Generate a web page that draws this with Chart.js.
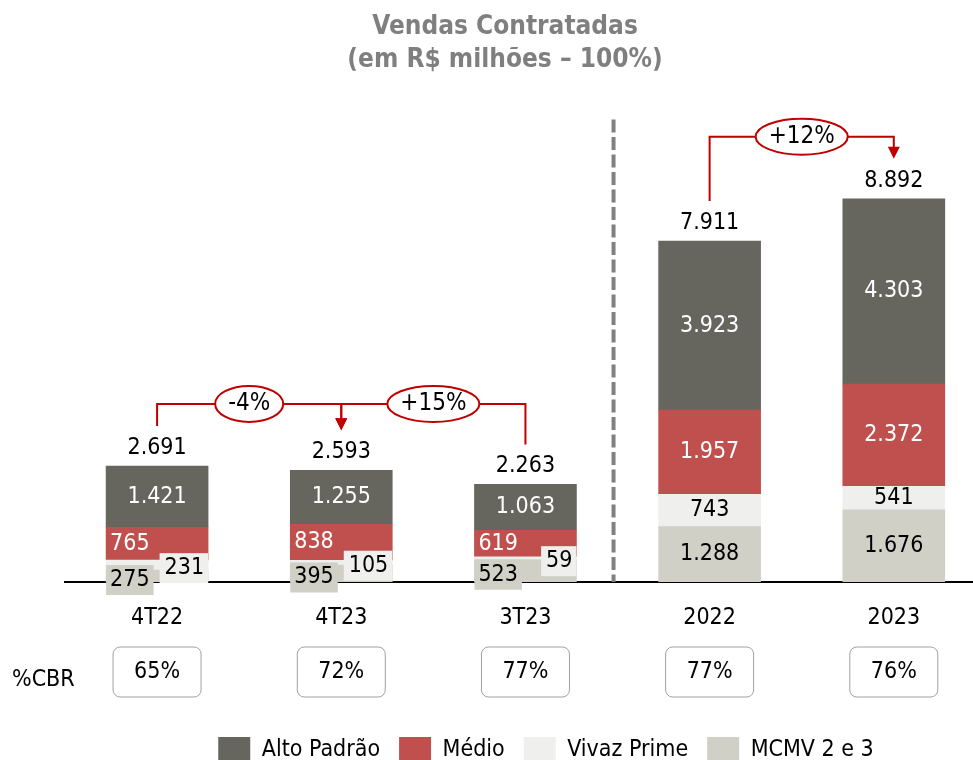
<!DOCTYPE html>
<html>
<head>
<meta charset="utf-8">
<script src="https://cdn.jsdelivr.net/npm/chart.js@4.4.1/dist/chart.umd.min.js"></script>
<style>
  html, body { margin: 0; padding: 0; background: #fff; overflow: hidden; }
  #wrap { width: 973px; height: 773px; position: relative; }
</style>
</head>
<body>
<div id="wrap"><canvas id="vendas"></canvas></div>
<script>
const categories = ['4T22', '4T23', '3T23', '2022', '2023'];
const periodo = ['tri', 'tri', 'tri', 'ano', 'ano'];
const altoPadrao = [1421, 1255, 1063, 3923, 4303];
const medio = [765, 838, 619, 1957, 2372];
const vivazPrime = [231, 105, 59, 743, 541];
const mcmv = [275, 395, 523, 1288, 1676];
const totals = [2691, 2593, 2263, 7911, 8892];
const cbr = ['65%', '72%', '77%', '77%', '76%'];
const variacoes = [
    { from: 0, to: 1, label: '-4%' },
    { from: 2, to: 1, label: '+15%' },
    { from: 3, to: 4, label: '+12%' }
];

const fonte = '"DejaVu Sans Condensed", "DejaVu Sans", sans-serif';
const vermelho = '#c00000';
const cores = { alto: '#67665e', medio: '#c0504d', vivaz: '#efefed', mcmv: '#d0d0c6' };

function fmt(v) {
    return String(v).replace(/\B(?=(\d{3})+(?!\d))/g, '.');
}
function pontos(arr) {
    return arr.map((v, i) => ({ x: i, y: v }));
}

// rótulos, chaves de variação, separador e caixas de %CBR
const extras = {
    id: 'extras',
    afterLayout(chart) {
        // legenda um pouco deslocada para a direita, como no original
        chart.legend.left += 41;
        chart.legend.right += 41;
    },
    afterDraw(chart) {
        const ctx = chart.ctx;
        const topo = chart.getDatasetMeta(3).data;
        const base = chart.scales.y.getPixelForValue(0);
        ctx.save();
        ctx.font = '23px ' + fonte;
        ctx.textBaseline = 'middle';

        // separador tracejado
        const sepX = (topo[2].x + topo[3].x) / 2 - 4;
        ctx.strokeStyle = '#808080';
        ctx.lineWidth = 4;
        ctx.setLineDash([13, 4.5]);
        ctx.beginPath();
        ctx.moveTo(sepX, chart.chartArea.top + 29);
        ctx.lineTo(sepX, base);
        ctx.stroke();
        ctx.setLineDash([]);

        // valores dentro das barras
        chart.data.datasets.forEach((ds, d) => {
            chart.getDatasetMeta(d).data.forEach((bar, i) => {
                const txt = fmt(ds.data[i].y);
                const meio = (bar.y + bar.base) / 2;
                const esq = bar.x - bar.width / 2;
                const dir = bar.x + bar.width / 2;
                const w = ctx.measureText(txt).width;
                if (periodo[i] === 'ano' || d === 3) {
                    ctx.textAlign = 'center';
                    ctx.fillStyle = d >= 2 ? '#fff' : '#000';
                    ctx.fillText(txt, bar.x, meio);
                } else if (d === 2) {
                    ctx.textAlign = 'left';
                    ctx.fillStyle = '#fff';
                    ctx.fillText(txt, esq + 4, meio);
                } else if (d === 1) {
                    ctx.fillStyle = cores.vivaz;
                    ctx.fillRect(dir - w - 9, meio + 3 - 15, w + 9, 30);
                    ctx.textAlign = 'right';
                    ctx.fillStyle = '#000';
                    ctx.fillText(txt, dir - 4, meio + 3);
                } else {
                    ctx.fillStyle = cores.mcmv;
                    ctx.fillRect(esq, meio + 4 - 15, w + 8, 30);
                    ctx.textAlign = 'left';
                    ctx.fillStyle = '#000';
                    ctx.fillText(txt, esq + 4, meio + 4);
                }
            });
        });

        // totais
        ctx.textAlign = 'center';
        ctx.fillStyle = '#000';
        topo.forEach((bar, i) => ctx.fillText(fmt(totals[i]), bar.x, bar.y - 18));

        // chaves de variação
        const linhaY = (i) => {
            const ys = topo.filter((b, j) => periodo[j] === periodo[i]).map(b => b.y);
            return Math.min(...ys) - 62;
        };
        ctx.strokeStyle = vermelho;
        ctx.fillStyle = vermelho;
        ctx.lineWidth = 2;
        variacoes.forEach(v => {
            const a = topo[v.from], b = topo[v.to];
            const y = linhaY(v.from);
            ctx.beginPath();
            ctx.moveTo(a.x, a.y - 40);
            ctx.lineTo(a.x, y);
            ctx.lineTo(b.x, y);
            ctx.lineTo(b.x, b.y - 50);
            ctx.stroke();
            ctx.beginPath();
            ctx.moveTo(b.x - 6, b.y - 52);
            ctx.lineTo(b.x + 6, b.y - 52);
            ctx.lineTo(b.x, b.y - 40);
            ctx.closePath();
            ctx.fill();
        });
        ctx.font = '24px ' + fonte;
        variacoes.forEach(v => {
            const a = topo[v.from], b = topo[v.to];
            const y = linhaY(v.from);
            const cx = (a.x + b.x) / 2;
            const w = ctx.measureText(v.label).width;
            ctx.beginPath();
            ctx.ellipse(cx, y, w / 2 + 13, 18, 0, 0, Math.PI * 2);
            ctx.fillStyle = '#fff';
            ctx.fill();
            ctx.strokeStyle = vermelho;
            ctx.stroke();
            ctx.fillStyle = '#000';
            ctx.fillText(v.label, cx, y);
        });

        // %CBR
        ctx.font = '23px ' + fonte;
        ctx.textAlign = 'left';
        ctx.fillText('%CBR', 12, base + 98);
        ctx.textAlign = 'center';
        topo.forEach((bar, i) => {
            ctx.beginPath();
            ctx.roundRect(bar.x - 44, base + 65, 88, 50, 7);
            ctx.strokeStyle = '#a0a0a0';
            ctx.lineWidth = 1;
            ctx.stroke();
            ctx.fillStyle = '#000';
            ctx.fillText(cbr[i], bar.x, base + 90);
        });
        ctx.restore();
    }
};

new Chart(document.getElementById('vendas'), {
    type: 'bar',
    data: {
        datasets: [
            { label: 'MCMV 2 e 3', data: pontos(mcmv), backgroundColor: cores.mcmv },
            { label: 'Vivaz Prime', data: pontos(vivazPrime), backgroundColor: cores.vivaz },
            { label: 'Médio', data: pontos(medio), backgroundColor: cores.medio },
            { label: 'Alto Padrão', data: pontos(altoPadrao), backgroundColor: cores.alto }
        ]
    },
    options: {
        responsive: true,
        maintainAspectRatio: false,
        animation: false,
        barThickness: 102,
        layout: { padding: { left: 37, right: 0, top: 0, bottom: 0 } },
        plugins: {
            title: {
                display: true,
                text: ['Vendas Contratadas', '(em R$ milhões – 100%)'],
                color: '#7f7f7f',
                font: { family: fonte, size: 26, weight: 'bold', lineHeight: 1.3 },
                padding: { top: 10, bottom: 13 }
            },
            legend: {
                position: 'bottom',
                reverse: true,
                labels: {
                    color: '#000',
                    font: { family: fonte, size: 23 },
                    boxWidth: 32,
                    boxHeight: 26,
                    padding: 19
                }
            },
            tooltip: { enabled: false }
        },
        scales: {
            x: {
                type: 'linear',
                stacked: true,
                offset: false,
                min: -0.5,
                max: 4.43,
                grid: { display: false, drawTicks: false },
                border: { display: true, color: '#000', width: 2 },
                afterBuildTicks: (axis) => { axis.ticks = categories.map((c, i) => ({ value: i })); },
                afterFit: (axis) => { axis.height = 136; },
                ticks: {
                    padding: 22,
                    color: '#000',
                    font: { family: fonte, size: 23 },
                    callback: (v) => categories[v]
                }
            },
            y: {
                stacked: true,
                min: 0,
                max: 11400,
                grid: { display: false, drawTicks: false },
                border: { display: false },
                ticks: { display: false },
                afterFit: (axis) => { axis.width = 28; }
            }
        }
    },
    plugins: [extras]
});
</script>
</body>
</html>
